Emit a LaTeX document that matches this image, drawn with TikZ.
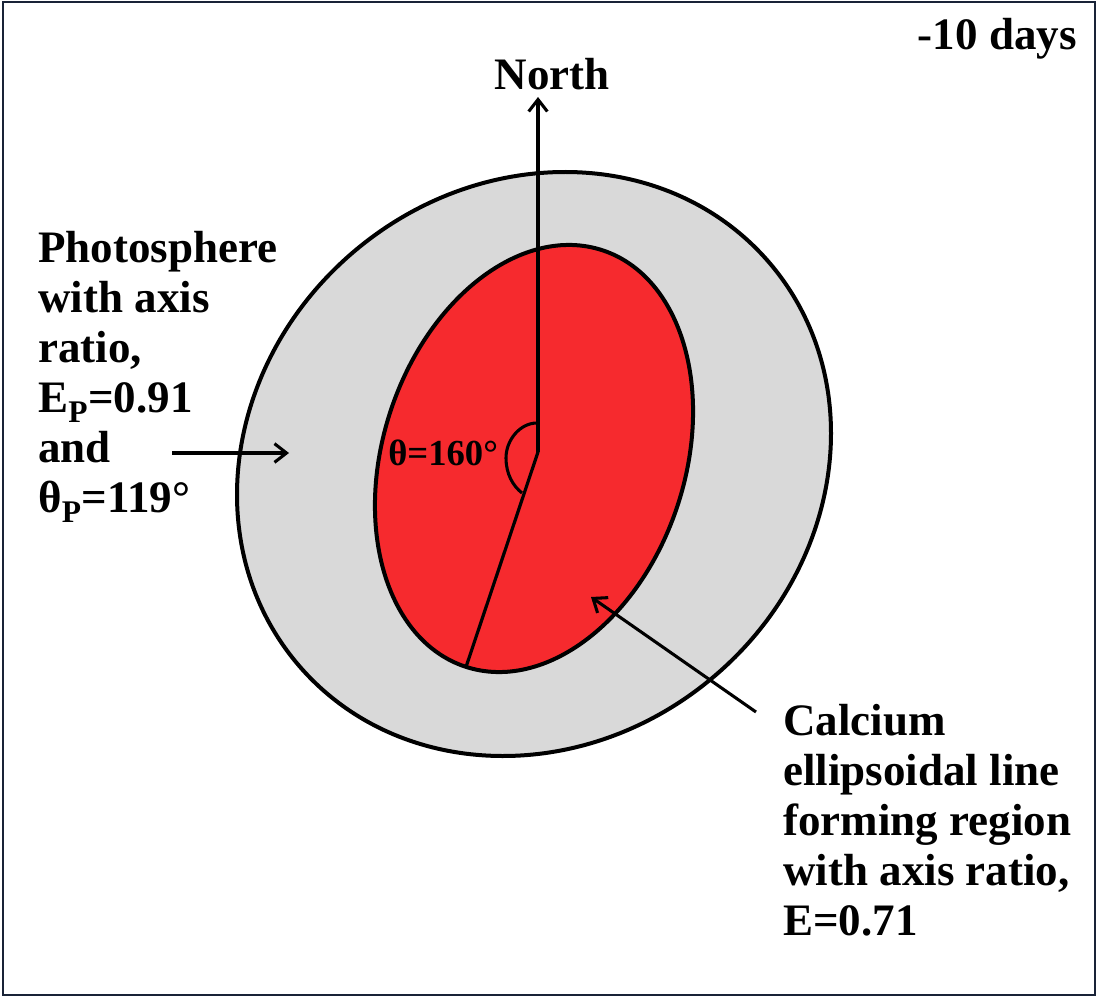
\documentclass[tikz,border=0pt]{standalone}
\usepackage{fontspec}
\setmainfont{Liberation Serif}
\usetikzlibrary{arrows.meta}
\definecolor{caRed}{RGB}{246,42,46}
\definecolor{photoGray}{RGB}{217,217,217}
\definecolor{frameCol}{RGB}{25,35,55}
\begin{document}
\begin{tikzpicture}[x=0.75pt,y=-0.75pt,
  outline/.style={line width=3pt,draw=black},
  ray/.style={line width=2.4pt,line cap=round},
  pointer/.style={line width=2.3pt,-{Straight Barb[length=9pt,width=14pt]}},
  lbl/.style={inner sep=0pt,font=\bfseries\fontsize{33.75}{37.5}\selectfont},
  small/.style={inner sep=0pt,font=\bfseries\fontsize{27.5}{30}\selectfont}]
\useasboundingbox (0,0) rectangle (1099,998);
% frame
\draw[frameCol,line width=1.6pt] (3,2) rectangle (1095,995);
% photosphere
\draw[outline,fill=photoGray,rotate around={40.4:(534,464)}] (534,464) ellipse [x radius=309.7, y radius=278.5];
% calcium region
\draw[outline,fill=caRed,rotate around={71.8:(534,458.5)}] (534,458.5) ellipse [x radius=219.2, y radius=151.1];
% key points
\coordinate (O) at (538,452);
\coordinate (N) at (538,97);
\coordinate (S) at (466,667);
\coordinate (pstart) at (172,453);
\coordinate (ptip) at (289,453);
\coordinate (cstart) at (756,712);
\coordinate (ctip) at (591,597);
% angle lines
\draw[ray] (O) -- (S);
\draw[pointer] (O) -- (N);
\draw[line width=2.3pt] (537,423) .. controls (520,423) and (506,440) .. (506,458)
  .. controls (506,474) and (513,486) .. (522,493);
% labels
\node[lbl,anchor=base] (north) at (552,90) {North};
\node[lbl,anchor=base east] (days) at (1077,50) {-10 days};
\node[small,anchor=base west] (theta) at (388,465) {θ=160°};
\node[lbl,anchor=base west] (photo) at (38,263) {\begin{tabular}[t]{@{}l@{}}Photosphere\\with axis\\ratio,\\E\textsubscript{P}=0.91\\and\\θ\textsubscript{P}=119°\end{tabular}};
\node[lbl,anchor=base west] (calc) at (783,735) {\begin{tabular}[t]{@{}l@{}}Calcium\\ellipsoidal line\\forming region\\with axis ratio,\\E=0.71\end{tabular}};
% pointers
\draw[pointer] (pstart) -- (ptip);
\draw[pointer] (cstart) -- (ctip);
\end{tikzpicture}
\end{document}
